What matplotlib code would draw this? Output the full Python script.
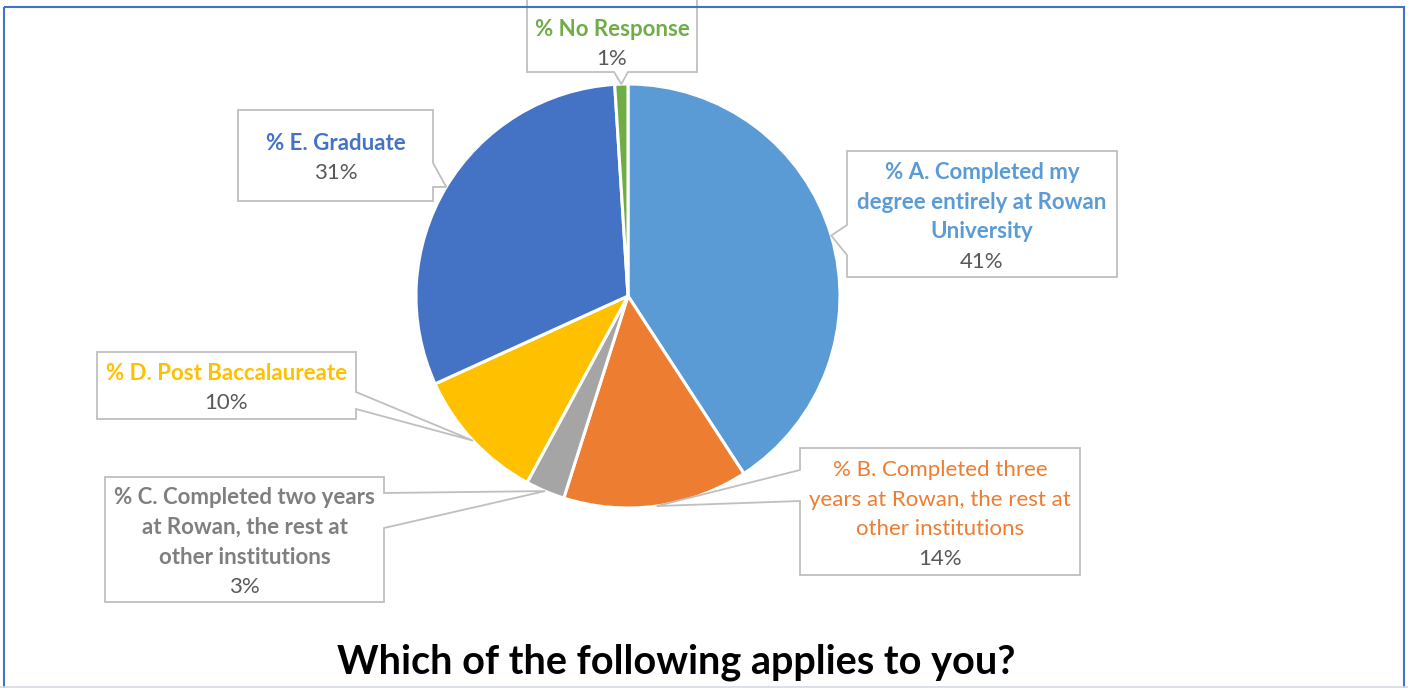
import matplotlib
matplotlib.use("Agg")
import matplotlib.pyplot as plt
from matplotlib.patches import Polygon, Rectangle
import numpy as np

plt.rcParams['font.family'] = ['Lato', 'DejaVu Sans']

# ---- data ----
categories = ["% A. Completed my\ndegree entirely at Rowan\nUniversity",
              "% B. Completed three\nyears at Rowan, the rest at\nother institutions",
              "% C. Completed two years\nat Rowan, the rest at\nother institutions",
              "% D. Post Baccalaureate",
              "% E. Graduate",
              "% No Response"]
values = [40.8, 14.1, 3.0, 10.3, 30.8, 1.0]
value_labels = ["41%", "14%", "3%", "10%", "31%", "1%"]
colors = ["#5B9BD5", "#ED7D31", "#A5A5A5", "#FFC000", "#4472C4", "#70AD47"]
label_colors = ["#5B9BD5", "#ED7D31", "#7F7F7F", "#FFC000", "#4472C4", "#70AD47"]
label_bold = [True, False, True, True, True, True]
title = "Which of the following applies to you?"

# ---- layout (pixel coords, y down) ----
W, H = 1408, 688
center = (628, 296)
radius = 212
# box: left, top, right, bottom ; wedge side ; wedge base positions along edge
boxes = [
    (847, 151, 1117, 277, 'left', 225, 255),
    (800, 448, 1080, 575, 'left', 470, 501),
    (105, 477, 384, 602, 'right', 493, 528),
    (97, 352, 356, 419, 'right', 392, 409),
    (238, 110, 433, 201, 'right', 163, 187),
    (527, -5, 697, 72, 'bottom', 614, 628),
]
line_step = 29.7
text_dy = 3

fig = plt.figure(figsize=(W / 100, H / 100), dpi=100)
ax = fig.add_axes([0, 0, 1, 1])
ax.set_xlim(0, W)
ax.set_ylim(H, 0)
ax.set_aspect('equal')
ax.axis('off')

wedges, _ = ax.pie(values, colors=colors, center=center, radius=radius,
                   startangle=-90, counterclock=True,
                   wedgeprops=dict(edgecolor='white', linewidth=2.2))
ax.set_xlim(0, W)
ax.set_ylim(H, 0)

edge_col = "#BFBFBF"
for i, w in enumerate(wedges):
    mid = np.deg2rad((w.theta1 + w.theta2) / 2)
    tip = (center[0] + radius * np.cos(mid), center[1] + radius * np.sin(mid))
    l, t, r, b, side, b0, b1 = boxes[i]
    if side == 'left':
        pts = [(l, t), (r, t), (r, b), (l, b), (l, b1), tip, (l, b0)]
    elif side == 'right':
        pts = [(l, t), (r, t), (r, b0), tip, (r, b1), (r, b), (l, b)]
    else:
        pts = [(l, t), (r, t), (r, b), (b1, b), tip, (b0, b), (l, b)]
    ax.add_patch(Polygon(pts, closed=True, facecolor='white', edgecolor=edge_col,
                         linewidth=1.3, zorder=3, clip_on=False))
    lines = categories[i].split("\n") + [value_labels[i]]
    n = len(lines)
    cx = (l + r) / 2
    cy = (t + b) / 2
    if side == 'bottom':
        cy = 41
    y0 = cy - (n - 1) * line_step / 2 + text_dy
    for j, s in enumerate(lines):
        last = j == n - 1
        ax.text(cx, y0 + j * line_step, s, ha='center', va='center',
                fontsize=16, color="#595959" if last else label_colors[i],
                fontweight='bold' if (label_bold[i] and not last) else 'normal',
                zorder=4)

ax.text(676, 662, title, ha='center', va='center', fontsize=28.5,
        fontweight='bold', color='black', zorder=4)

# frame
ax.add_patch(Rectangle((3.5, 6.5), 1400.5, 700, facecolor='none', edgecolor='#4472C4',
                       linewidth=1.5, zorder=5, clip_on=False))
ax.plot([0, W], [687, 687], color='#D6DCE5', lw=1.2, zorder=6)

fig.savefig("out.png", dpi=100)
